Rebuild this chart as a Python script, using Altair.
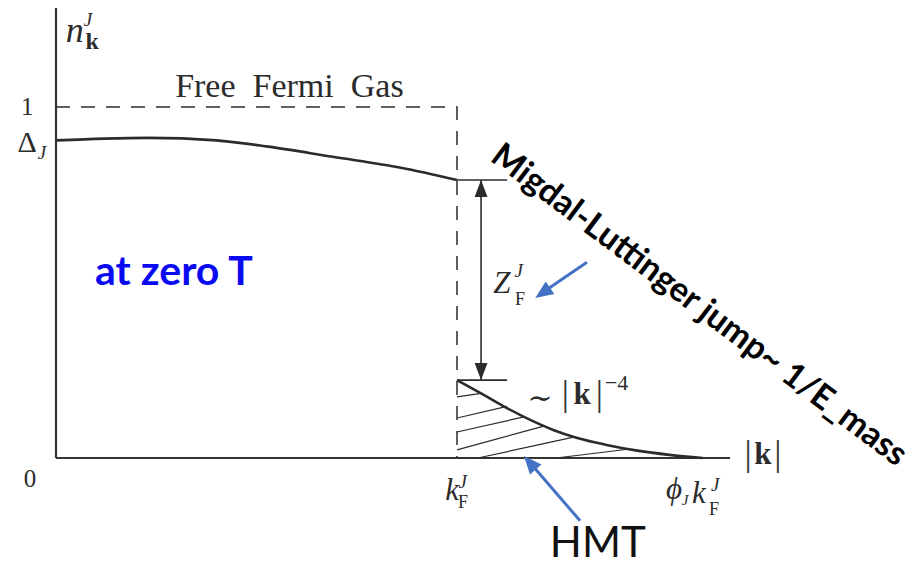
import altair as alt
import pandas as pd

# Momentum |k| in units of k_F^J, occupation n_k^J
k_core = [0.0, 0.12, 0.23, 0.40, 0.53, 0.69, 0.86, 1.0]
n_core = [0.905, 0.910, 0.912, 0.905, 0.887, 0.858, 0.827, 0.792]

# high-momentum tail ~ |k|^-4 between k_F and phi_J k_F
k_tail = [1.0, 1.06, 1.12, 1.18, 1.24, 1.30, 1.37, 1.45, 1.53, 1.613]
n_tail = [0.222, 0.184, 0.145, 0.110, 0.080, 0.057, 0.038, 0.021, 0.009, 0.0]

k_F = 1.0
n_free = 1.0
n_jump_top = 0.792
n_jump_bottom = 0.222
k_axis_end = 1.681
n_axis_end = 1.282
k_tick_end = 1.125

# hatching of the tail region
hatch_k0 = [1.0, 1.0, 1.0, 1.0, 1.052, 1.247]
hatch_n0 = [0.174, 0.114, 0.074, 0.023, 0.0, 0.0]
hatch_k1 = [1.060, 1.125, 1.170, 1.214, 1.294, 1.426]
hatch_n1 = [0.184, 0.147, 0.118, 0.090, 0.060, 0.025]

# ---- scales: plot spans the whole canvas ----
W, H = 920, 565
XS = alt.Scale(domain=[-0.13965, 2.15461], nice=False, zero=False)
YS = alt.Scale(domain=[-0.30484, 1.30484], nice=False, zero=False)

INK = "#2b2b2b"
BLUE = "#4472C4"
SERIF = "Liberation Serif, DejaVu Serif, serif"
SANS = "Lato, Open Sans, sans-serif"
HEAD = "M0,0L-0.38,1L0.38,1Z"
HEAD_WIDE = "M0,0L-0.42,1L0.42,1Z"


def enc_xy():
    return dict(x=alt.X("x:Q", scale=XS, axis=None),
                y=alt.Y("y:Q", scale=YS, axis=None))


def segments(rows, width=1.5, color=INK, dash=None):
    df = pd.DataFrame(rows, columns=["x", "y", "x2", "y2"])
    kw = dict(color=color, strokeWidth=width)
    if dash:
        kw["strokeDash"] = dash
    return alt.Chart(df).mark_rule(**kw).encode(
        **enc_xy(), x2="x2:Q", y2="y2:Q")


def curve(xs, ys, width=2.5, color=INK, dash=None, interp="monotone"):
    df = pd.DataFrame({"x": xs, "y": ys, "o": range(len(xs))})
    kw = dict(color=color, strokeWidth=width, interpolate=interp)
    if dash:
        kw["strokeDash"] = dash
    return alt.Chart(df).mark_line(**kw).encode(**enc_xy(), order="o:Q")


def head(x, y, angle, color=INK, size=1156, shape=HEAD):
    df = pd.DataFrame({"x": [x], "y": [y]})
    return alt.Chart(df).mark_point(
        shape=shape, filled=True, size=size, angle=angle,
        color=color, opacity=1, strokeWidth=0).encode(**enc_xy())


def label(items, font=SERIF, size=30, style="normal", weight="normal",
          color=INK, align="center", baseline="alphabetic", angle=0):
    df = pd.DataFrame(items, columns=["t", "x", "y"])
    return alt.Chart(df).mark_text(
        font=font, fontSize=size, fontStyle=style, fontWeight=weight,
        color=color, align=align, baseline=baseline, angle=angle,
    ).encode(**enc_xy(), text="t:N")


layers = []

# axes
layers.append(segments([[0, 0, k_axis_end, 0], [0, 0, 0, n_axis_end]], width=2.2, color="#333333"))

# free Fermi gas step (dashed)
layers.append(curve([0, k_F, k_F], [n_free, n_free, 0], width=1.5, dash=[14, 11], interp="linear"))

# interacting distribution
layers.append(curve(k_core, n_core, width=2.6))
layers.append(curve(k_tail, n_tail, width=2.6))

# hatching under the tail
layers.append(segments([[a, b, c, d] for a, b, c, d in zip(hatch_k0, hatch_n0, hatch_k1, hatch_n1)], width=1.2))

# jump markers and double arrow
layers.append(segments([[k_F, n_jump_top, k_tick_end, n_jump_top],
                        [k_F, n_jump_bottom, k_tick_end, n_jump_bottom],
                        [1.060, n_jump_top, 1.060, n_jump_bottom]], width=1.6))
layers.append(head(1.060, n_jump_top, 0))
layers.append(head(1.060, n_jump_bottom, 180))

# blue pointer arrows
layers.append(segments([[1.324, 0.558, 1.219, 0.476],
                        [1.307, -0.179, 1.187, -0.020]], width=3, color=BLUE))
layers.append(head(1.195, 0.456, 235.3, color=BLUE, size=1296, shape=HEAD_WIDE))
layers.append(head(1.167, 0.006, 319.3, color=BLUE, size=1296, shape=HEAD_WIDE))

# ---- text ----
# upright serif
layers.append(label([["1", -0.072, 0.977], ["0", -0.065, -0.083]], size=25))
layers.append(label([["Δ", -0.072, 0.872]], size=30))
layers.append(label([["Free\u00a0 Fermi\u00a0 Gas", 0.582, 1.028]], size=34))
layers.append(label([["F", 1.015, -0.142], ["F", 1.641, -0.162], ["F", 1.157, 0.436]], size=18))
layers.append(label([["|", 1.726, -0.020], ["|", 1.800, -0.020],
                     ["|", 1.270, 0.151], ["|", 1.355, 0.151]], size=36, color="#333333"))
layers.append(label([["∼", 1.207, 0.142]], size=30))
layers.append(label([["−4", 1.398, 0.193]], size=22))

# italic serif
layers.append(label([["n", 0.047, 1.185]], size=36, style="italic"))
layers.append(label([["k", 0.988, -0.120], ["ϕ", 1.541, -0.117],
                     ["k", 1.603, -0.128], ["Z", 1.112, 0.470]], size=31, style="italic"))
layers.append(label([["J", 0.080, 1.231], ["J", -0.035, 0.852], ["J", 1.014, -0.085],
                     ["J", 1.644, -0.094], ["J", 1.154, 0.516]],
                    size=19, style="italic"))
layers.append(label([["J", 1.569, -0.134]], size=15, style="italic"))

# bold serif
layers.append(label([["k", 0.090, 1.165]], size=24, weight="bold"))
layers.append(label([["k", 1.763, -0.016], ["k", 1.312, 0.155]], size=31, weight="bold"))

# sans annotations
layers.append(label([["at zero T", 0.294, 0.493]], font=SANS, size=41, weight="bold", color="#0A0AF2"))
layers.append(label([["HMT", 1.351, -0.282]], font=SANS, size=42, color="#111111"))
layers.append(label([["Migdal-Luttinger jump~ 1/E_mass", 1.603, 0.434]], font=SANS, size=34,
                    weight="bold", color="#000000", baseline="middle", angle=37))

chart = alt.layer(*layers).properties(
    width=W, height=H, autosize="none", padding=0, background="white"
).configure_view(stroke=None)

chart.save("out.html", embed_options={"renderer": "svg", "actions": False})
